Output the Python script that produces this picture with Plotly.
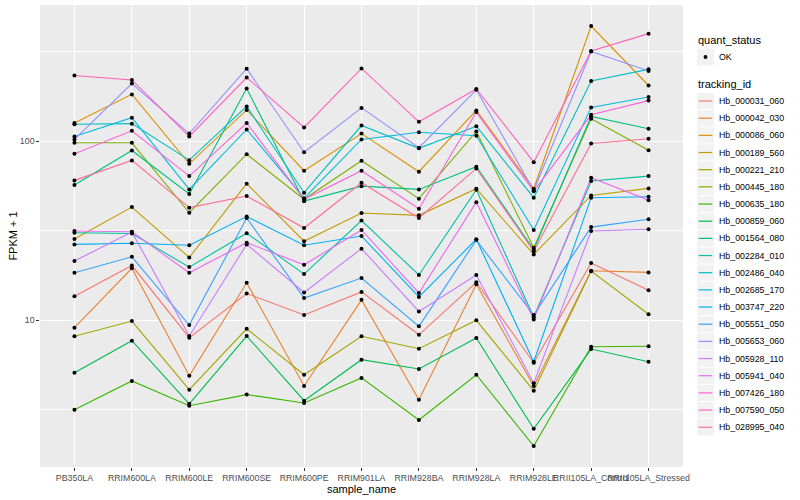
import numpy as np
import plotly.graph_objects as go

samples = ["PB350LA", "RRIM600LA", "RRIM600LE", "RRIM600SE", "RRIM600PE", "RRIM901LA",
           "RRIM928BA", "RRIM928LA", "RRIM928LE", "RRII105LA_Control", "RRII105LA_Stressed"]

tracking_ids = ["Hb_000031_060", "Hb_000042_030", "Hb_000086_060", "Hb_000189_560", "Hb_000221_210",
                "Hb_000445_180", "Hb_000635_180", "Hb_000859_060", "Hb_001564_080", "Hb_002284_010",
                "Hb_002486_040", "Hb_002685_170", "Hb_003747_220", "Hb_005551_050", "Hb_005653_060",
                "Hb_005928_110", "Hb_005941_040", "Hb_007426_180", "Hb_007590_050", "Hb_028995_040"]

palette = ["#F8766D", "#EA8331", "#D89000", "#C09B00", "#A3A500", "#7CAE00", "#39B600", "#00BB4E",
           "#00BF7D", "#00C1A3", "#00BFC4", "#00BAE0", "#00B0F6", "#35A2FF", "#9590FF", "#C77CFF",
           "#E76BF3", "#FA62DB", "#FF62BC", "#FF6C90"]

# FPKM + 1 values, one list per tracking id (order = samples)
Hb_000031_060 = [13.6, 20.2, 8.0, 14.1, 10.7, 14.4, 8.3, 16.3, 5.8, 20.9, 14.7]
Hb_000042_030 = [9.1, 19.5, 4.9, 16.2, 4.3, 13.0, 3.6, 15.9, 4.3, 18.9, 18.5]
Hb_000086_060 = [126, 182, 74.6, 149, 68.3, 110, 67.4, 148, 54.2, 438, 204]
Hb_000189_560 = [28.4, 42.8, 22.4, 57.8, 27.6, 39.7, 38.5, 54.2, 23.3, 49.7, 54.4]
Hb_000221_210 = [8.14, 9.9, 4.1, 8.97, 4.97, 8.14, 6.94, 10.0, 4.05, 18.8, 10.8]
Hb_000445_180 = [97.7, 97.7, 39.8, 84.4, 47.3, 77.6, 47.7, 113, 25.4, 133, 88.9]
Hb_000635_180 = [3.17, 4.59, 3.34, 3.85, 3.46, 4.77, 2.78, 4.97, 1.99, 7.12, 7.16]
Hb_000859_060 = [5.10, 7.69, 3.42, 8.17, 3.56, 6.03, 5.35, 7.96, 2.48, 6.91, 5.87]
Hb_001564_080 = [56.8, 88.5, 50.6, 196, 46.2, 56.0, 53.7, 71.9, 24.8, 137, 117]
Hb_002284_010 = [30.8, 30.5, 19.8, 30.6, 18.1, 36.0, 17.9, 53.5, 10.4, 59.8, 63.7]
Hb_002486_040 = [124, 125, 78.2, 156, 51.5, 122, 91.0, 121, 48.3, 216, 251]
Hb_002685_170 = [106, 135, 53.7, 116, 48.0, 102, 112, 107, 31.9, 154, 176]
Hb_003747_220 = [26.5, 26.9, 26.2, 37.9, 26.2, 29.5, 13.5, 28.3, 5.87, 48.3, 48.9]
Hb_005551_050 = [18.4, 22.6, 9.4, 37.2, 13.3, 17.2, 9.25, 28.0, 10.7, 33.1, 36.6]
Hb_005653_060 = [102, 209, 110, 253, 86.6, 153, 91.7, 193, 53.0, 316, 246]
Hb_005928_110 = [21.4, 31.1, 8.17, 26.5, 14.3, 25.1, 11.2, 17.9, 4.46, 31.5, 32.2]
Hb_005941_040 = [31.5, 31.2, 18.4, 27.1, 20.4, 31.9, 14.2, 45.6, 10.1, 62.4, 46.8]
Hb_007426_180 = [84.9, 114, 63.7, 126, 47.3, 68.3, 41.9, 145, 52.5, 140, 168]
Hb_007590_050 = [232, 219, 106, 226, 119, 254, 128, 195, 76.2, 318, 397]
Hb_028995_040 = [60.3, 77.9, 42.5, 49.3, 32.7, 58.5, 37.2, 70.3, 24.3, 96.8, 103]

series = [Hb_000031_060, Hb_000042_030, Hb_000086_060, Hb_000189_560, Hb_000221_210,
          Hb_000445_180, Hb_000635_180, Hb_000859_060, Hb_001564_080, Hb_002284_010,
          Hb_002486_040, Hb_002685_170, Hb_003747_220, Hb_005551_050, Hb_005653_060,
          Hb_005928_110, Hb_005941_040, Hb_007426_180, Hb_007590_050, Hb_028995_040]

quant_status = "OK"

FONT = "Liberation Sans, Arial, Helvetica, sans-serif"

fig = go.Figure()
for tid, col, vals in zip(tracking_ids, palette, series):
    fig.add_trace(go.Scatter(x=samples, y=vals, mode="lines", name=tid,
                             line=dict(color=col, width=1.1), showlegend=False))

all_x, all_y = [], []
for vals in series:
    all_x += samples
    all_y += vals
fig.add_trace(go.Scatter(x=all_x, y=all_y, mode="markers", name=quant_status,
                         marker=dict(color="black", size=4), showlegend=False))

lo = np.log10(min(all_y))
hi = np.log10(max(all_y))
pad = 0.05 * (hi - lo)

# panel geometry in pixels
L, R, T, B = 40, 683, 5, 467
W, H = 800, 500


def X(px):
    return (px - L) / (R - L)


def Y(py):
    return (B - py) / (B - T)


fig.update_layout(
    width=W, height=H,
    margin=dict(l=L, r=W - R, t=T, b=H - B, autoexpand=False),
    paper_bgcolor="white", plot_bgcolor="#EBEBEB",
    font=dict(family=FONT, size=8.8, color="#4D4D4D"),
    showlegend=False,
)
fig.update_xaxes(
    type="category", categoryorder="array", categoryarray=samples,
    range=[-0.6, len(samples) - 0.4],
    showgrid=True, gridcolor="white", gridwidth=1.07, zeroline=False, showline=False,
    ticks="outside", ticklen=2.7, tickwidth=1.07, tickcolor="#333333", tickangle=0,
    tickfont=dict(family=FONT, size=8.8, color="#4D4D4D"),
    title=dict(text="sample_name", font=dict(family=FONT, size=11, color="black"), standoff=2),
    automargin=False,
)
fig.update_yaxes(
    type="log", range=[lo - pad, hi + pad],
    tickmode="array", tickvals=[10, 100], ticktext=["10", "100"],
    showgrid=True, gridcolor="white", gridwidth=1.07, zeroline=False, showline=False,
    minor=dict(tickmode="array", tickvals=[10 ** 0.5, 10 ** 1.5, 10 ** 2.5], showgrid=True,
               gridcolor="white", gridwidth=0.53, ticks=""),
    ticks="outside", ticklen=2.7, tickwidth=1.07, tickcolor="#333333",
    tickfont=dict(family=FONT, size=8.8, color="#4D4D4D"),
    title=dict(text="FPKM + 1", font=dict(family=FONT, size=11, color="black"), standoff=0),
    automargin=False,
)

# ---- legend (ggplot style) ----
shapes = []
annots = []
key_x0, key_x1 = 697, 714
text_x = 717

annots.append(dict(x=X(696), y=Y(40), xref="paper", yref="paper", text="quant_status",
                   showarrow=False, xanchor="left", yanchor="middle",
                   font=dict(family=FONT, size=11, color="black")))
shapes.append(dict(type="rect", xref="paper", yref="paper", x0=X(key_x0), x1=X(key_x1),
                   y0=Y(65.3), y1=Y(48.7), fillcolor="#F2F2F2", line=dict(width=0), layer="above"))
cx, cy, r = 705.5, 57, 1.9
shapes.append(dict(type="circle", xref="paper", yref="paper", x0=X(cx - r), x1=X(cx + r),
                   y0=Y(cy + r), y1=Y(cy - r), fillcolor="black", line=dict(width=0), layer="above"))
annots.append(dict(x=X(text_x), y=Y(57), xref="paper", yref="paper", text=quant_status,
                   showarrow=False, xanchor="left", yanchor="middle",
                   font=dict(family=FONT, size=8.8, color="black")))

annots.append(dict(x=X(696), y=Y(84), xref="paper", yref="paper", text="tracking_id",
                   showarrow=False, xanchor="left", yanchor="middle",
                   font=dict(family=FONT, size=11, color="black")))
pitch = 17.17
for i, (tid, col) in enumerate(zip(tracking_ids, palette)):
    yc = 101 + pitch * i
    shapes.append(dict(type="rect", xref="paper", yref="paper", x0=X(key_x0), x1=X(key_x1),
                       y0=Y(yc + 8.1), y1=Y(yc - 8.1), fillcolor="#F2F2F2", line=dict(width=0),
                       layer="above"))
    shapes.append(dict(type="line", xref="paper", yref="paper", x0=X(key_x0 + 1.7), x1=X(key_x1 - 1.7),
                       y0=Y(yc), y1=Y(yc), line=dict(color=col, width=1.2), layer="above"))
    annots.append(dict(x=X(text_x), y=Y(yc), xref="paper", yref="paper", text=tid,
                       showarrow=False, xanchor="left", yanchor="middle",
                       font=dict(family=FONT, size=8.8, color="black")))

fig.update_layout(shapes=shapes, annotations=annots)

fig.write_html("out.html", config={"displayModeBar": False},
               post_script="document.body.style.margin='0';")
